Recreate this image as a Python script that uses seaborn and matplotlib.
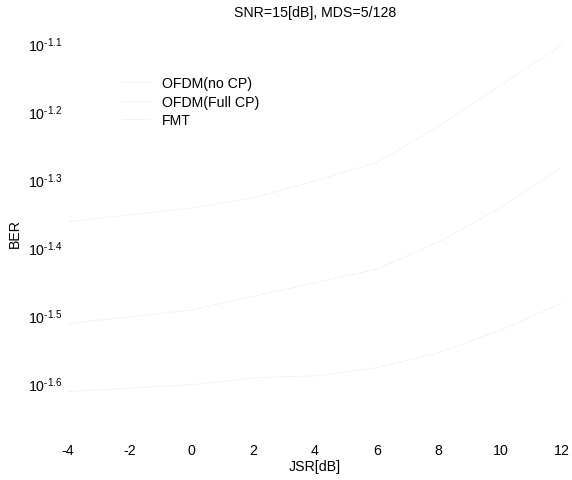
import numpy as np
import pandas as pd
import matplotlib
matplotlib.use("Agg")
import matplotlib.pyplot as plt
from matplotlib.ticker import FixedLocator, FixedFormatter, NullLocator
from matplotlib.transforms import ScaledTranslation
import seaborn as sns

# JSR sweep and BER curves (log10 of BER) for the three schemes
jsr_db = [-4, -2, 0, 2, 4, 6, 8, 10, 12]
series_names = ["OFDM(no CP)", "OFDM(Full CP)", "FMT"]
log_ber_no_cp = [-1.37, -1.36, -1.35, -1.335, -1.31, -1.283, -1.23, -1.17, -1.11]
log_ber_full_cp = [-1.52, -1.51, -1.50, -1.48, -1.46, -1.44, -1.40, -1.35, -1.29]
log_ber_fmt = [-1.62, -1.615, -1.61, -1.60, -1.597, -1.585, -1.563, -1.53, -1.49]

x_ticks = [-4, -2, 0, 2, 4, 6, 8, 10, 12]
y_tick_exps = [-1.1, -1.2, -1.3, -1.4, -1.5, -1.6]
y_tick_labels = [r"$\mathregular{10^{\text{%s}}}$" % f"{e:.1f}" for e in y_tick_exps]

rows = []
for name, vals in zip(series_names, [log_ber_no_cp, log_ber_full_cp, log_ber_fmt]):
    for x, v in zip(jsr_db, vals):
        rows.append({"JSR": x, "BER": 10 ** v, "scheme": name})
df = pd.DataFrame(rows)

sns.set_theme(style="white")
plt.rcParams["font.family"] = ["Liberation Sans", "DejaVu Sans"]
plt.rcParams["mathtext.fontset"] = "custom"
plt.rcParams["mathtext.rm"] = "Liberation Sans"
plt.rcParams["text.color"] = "black"
plt.rcParams["axes.labelcolor"] = "black"

FS = 10.2

fig = plt.figure(figsize=(5.72, 4.81), dpi=100)
ax = fig.add_axes([68 / 572, 1 - 436 / 481, (562 - 68) / 572, (436 - 31) / 481])

faint = ["#f1f1f1", "#f1f1f1", "#f1f1f1"]
sns.lineplot(data=df, x="JSR", y="BER", hue="scheme", hue_order=series_names,
             palette=faint, linewidth=0.6, ax=ax, legend=True)

ax.set_yscale("log")
ax.set_xlim(-4, 12)
ax.set_ylim(10 ** -1.684, 10 ** -1.088)
ax.xaxis.set_major_locator(FixedLocator(x_ticks))
ax.set_xticklabels([str(t) for t in x_ticks])
ax.yaxis.set_major_locator(FixedLocator([10 ** e for e in y_tick_exps]))
ax.yaxis.set_major_formatter(FixedFormatter(y_tick_labels))
ax.yaxis.set_minor_locator(NullLocator())
ax.tick_params(axis="both", length=0, labelsize=FS, colors="black")
ax.tick_params(axis="x", pad=6)
ax.tick_params(axis="y", pad=4)
for s in ax.spines.values():
    s.set_visible(False)

# drop the y tick labels slightly so the base "10" sits under each tick
shift = ScaledTranslation(0, -0.055, fig.dpi_scale_trans)
for lbl in ax.get_yticklabels():
    lbl.set_transform(lbl.get_transform() + shift)

ax.set_xlabel("JSR[dB]", fontsize=FS, labelpad=1)
ax.set_ylabel("BER", fontsize=FS, labelpad=4)
ax.set_title("SNR=15[dB], MDS=5/128", fontsize=FS, pad=10, color="black")

leg = ax.legend(loc="upper left", bbox_to_anchor=(0.084, 0.917), frameon=False,
                fontsize=FS, labelspacing=0.3, handlelength=2.0, handletextpad=0.8)
for t in leg.get_texts():
    t.set_color("black")

fig.savefig("out.png", dpi=100)
